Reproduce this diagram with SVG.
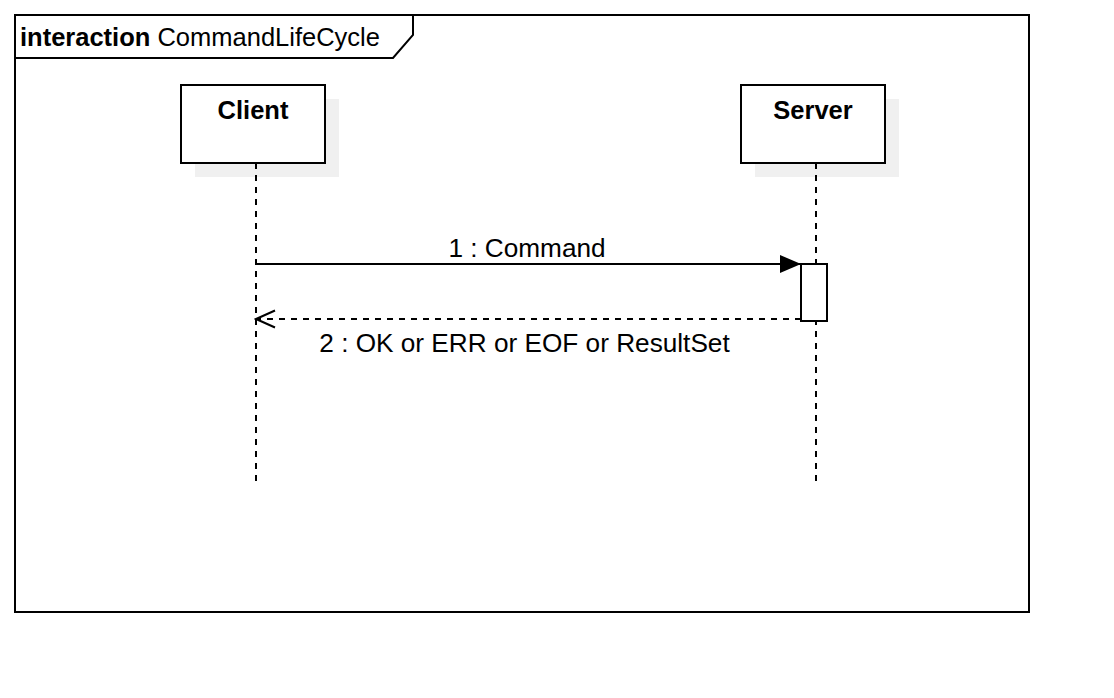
<svg xmlns="http://www.w3.org/2000/svg" width="1114" height="698" viewBox="0 0 1114 698">
<style>
.t{font-family:"Liberation Sans",Arial,sans-serif;font-size:25.5px;fill:#000}
.m{font-size:26.2px}
.b{font-weight:bold}
.box{fill:#fff;stroke:#000;stroke-width:2}
.sh{fill:#f0f0f0}
.life{stroke:#000;stroke-width:2;stroke-dasharray:6,6;fill:none}
.msg{stroke:#000;stroke-width:2;fill:none}
</style>
<defs>
<marker id="filled" markerWidth="22" markerHeight="18" refX="21" refY="9" orient="auto" markerUnits="userSpaceOnUse">
<path d="M0,0 L21,9 L0,18 Z" fill="#000"/>
</marker>
<marker id="open" markerWidth="22" markerHeight="20" refX="20" refY="10" orient="auto" markerUnits="userSpaceOnUse">
<path d="M1,1.5 L20,10 L1,18.5" fill="none" stroke="#000" stroke-width="2"/>
</marker>
</defs>
<rect width="1114" height="698" fill="#fff"/>
<g id="frame">
<rect x="15" y="15" width="1014" height="597" fill="none" stroke="#000" stroke-width="2"/>
<path d="M15,58 L393,58 L413,35 L413,15" fill="none" stroke="#000" stroke-width="2"/>
<text class="t" x="20" y="46"><tspan class="b">interaction</tspan> CommandLifeCycle</text>
</g>
<g id="client">
<rect class="sh" x="195" y="99" width="144" height="78"/>
<rect class="box" x="181" y="85" width="144" height="78"/>
<text class="t b" x="253" y="119" text-anchor="middle">Client</text>
<line class="life" x1="256" y1="163" x2="256" y2="484"/>
</g>
<g id="server">
<rect class="sh" x="755" y="99" width="144" height="78"/>
<rect class="box" x="741" y="85" width="144" height="78"/>
<text class="t b" x="813" y="119" text-anchor="middle">Server</text>
<line class="life" x1="816" y1="163" x2="816" y2="484"/>
<rect class="box" x="801" y="264" width="26" height="57"/>
</g>
<g id="connectors">
<line class="msg" x1="256" y1="264" x2="801" y2="264" marker-end="url(#filled)"/>
<text class="t m" x="527" y="257" text-anchor="middle">1 : Command</text>
<line class="msg" x1="801" y1="319" x2="256" y2="319" stroke-dasharray="6,6" marker-end="url(#open)"/>
<text class="t m" x="524.5" y="352" text-anchor="middle">2 : OK or ERR or EOF or ResultSet</text>
</g>
</svg>
